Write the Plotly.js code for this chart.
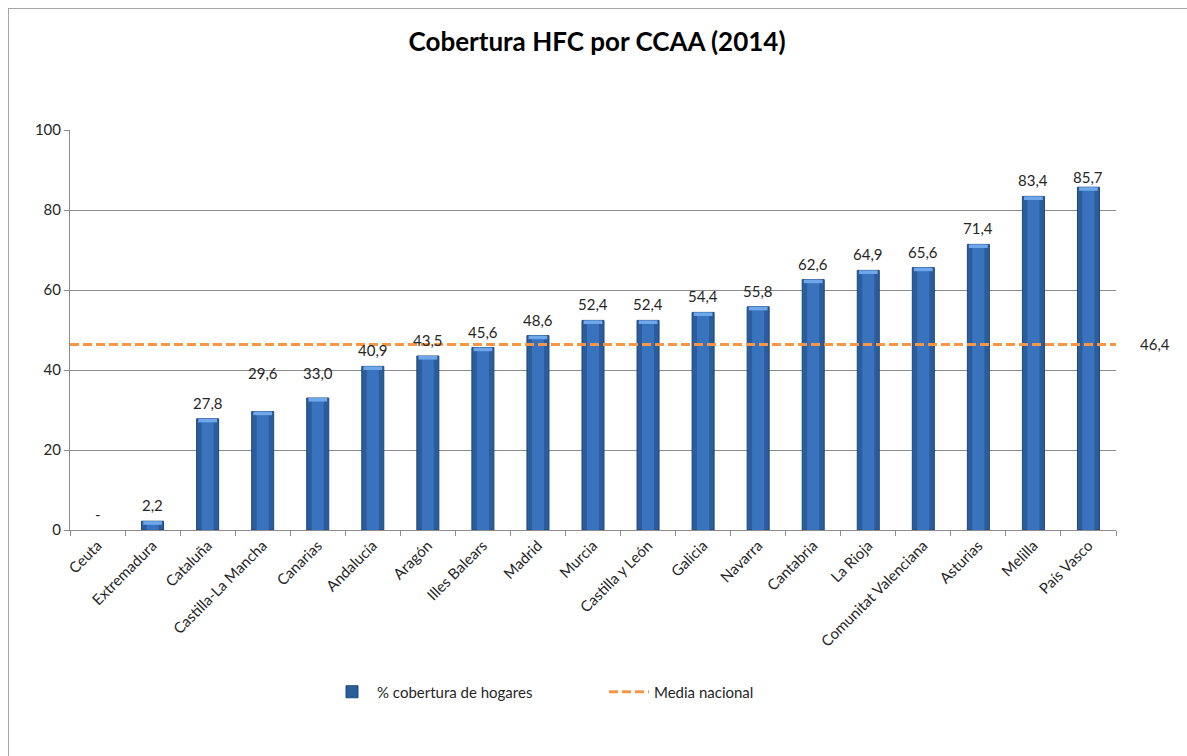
<!DOCTYPE html>
<html>
<head>
<meta charset="utf-8">
<script src="https://cdn.plot.ly/plotly-3.0.1.min.js"></script>
<style>
  html, body { margin: 0; padding: 0; background: #ffffff; }
  #wrap { position: relative; width: 1187px; height: 756px; overflow: hidden; }
  #frame { position: absolute; left: 8px; top: 8px; width: 1200px; height: 800px;
           border-left: 1px solid #a6a6a6; border-top: 1px solid #a6a6a6; pointer-events: none; }
  #chart { position: absolute; left: 0; top: 0; width: 1187px; height: 756px; }
</style>
</head>
<body>
<div id="wrap">
  <div id="chart"></div>
  <div id="frame"></div>
</div>
<script>
// Comunidades autónomas, ordered by HFC coverage
const regions = ['Ceuta', 'Extremadura', 'Cataluña', 'Castilla-La Mancha', 'Canarias', 'Andalucía',
  'Aragón', 'Illes Balears', 'Madrid', 'Murcia', 'Castilla y León', 'Galicia', 'Navarra',
  'Cantabria', 'La Rioja', 'Comunitat Valenciana', 'Asturias', 'Melilla', 'País Vasco'];

// % of households with HFC coverage (Ceuta has no data)
const coverage = [null, 2.2, 27.8, 29.6, 33.0, 40.9, 43.5, 45.6, 48.6, 52.4, 52.4, 54.4, 55.8,
  62.6, 64.9, 65.6, 71.4, 83.4, 85.7];

// National average
const mediaNacional = 46.4;

const seriesName = '% cobertura de hogares';
const meanName = 'Media nacional';

const FONT = 'Lato, "Open Sans", sans-serif';
const fmt = v => (v === null ? '-' : v.toFixed(1).replace('.', ','));

// Some value labels sit higher above their bar
const extraLift = { 'Castilla-La Mancha': 23, 'Canarias': 9, 'País Vasco': -6 };

// Main bar body
const bars = {
  type: 'bar', name: seriesName, x: regions, y: coverage,
  width: 0.4,
  marker: { color: '#2b5c9b', line: { color: '#20477a', width: 1 } },
  hoverinfo: 'x+y'
};
// Lighter centre strip for the rounded look
const barsShine = {
  type: 'bar', x: regions, y: coverage, width: 0.22, showlegend: false, hoverinfo: 'skip',
  marker: { color: '#3a73bd', line: { width: 0 } }
};
// Bevelled light cap at the top of each bar
const capH = 0.9;
const barsCap = {
  type: 'bar', x: regions,
  y: coverage.map(v => (v === null ? null : Math.min(capH, v))),
  base: coverage.map(v => (v === null ? null : Math.max(0, v - capH))),
  width: 0.34, showlegend: false, hoverinfo: 'skip',
  marker: { color: '#6ea7ea', line: { width: 0 } }
};

// National average drawn across the full plot width on a helper axis
const meanLine = {
  type: 'scatter', mode: 'lines', name: meanName,
  x: [0, 1], y: [mediaNacional, mediaNacional], xaxis: 'x2',
  line: { color: '#f79646', width: 3, dash: '9px,4px' },
  hoverinfo: 'y'
};

const annotations = regions.map((r, i) => ({
  x: r, y: coverage[i] === null ? 0 : coverage[i], xref: 'x', yref: 'y',
  text: fmt(coverage[i]), showarrow: false,
  yanchor: 'middle', yshift: 16 + (extraLift[r] || 0),
  font: { family: FONT, size: 15, color: '#262626' }
}));
annotations.push({
  x: 1, xref: 'paper', y: mediaNacional, yref: 'y',
  text: fmt(mediaNacional), showarrow: false,
  xanchor: 'left', xshift: 22, yanchor: 'middle',
  font: { family: FONT, size: 15, color: '#262626' }
});

const layout = {
  width: 1187, height: 756,
  paper_bgcolor: 'rgba(0,0,0,0)', plot_bgcolor: '#ffffff',
  margin: { l: 70, r: 71, t: 130, b: 226, pad: 0 },
  barmode: 'overlay',
  separators: ',.',
  font: { family: FONT, size: 14, color: '#262626' },
  title: {
    text: '<b>Cobertura HFC por CCAA (2014)</b>',
    x: 0.503, xanchor: 'center', y: 0.944, yanchor: 'middle',
    font: { family: FONT, size: 26, color: '#000000' }
  },
  xaxis: {
    type: 'category', range: [-0.5, regions.length - 0.5],
    tickangle: -45, tickson: 'boundaries',
    ticks: 'outside', ticklen: 5, tickcolor: '#8c8c8c',
    showline: true, linecolor: '#8c8c8c', linewidth: 1,
    showgrid: false, zeroline: false,
    tickfont: { family: FONT, size: 15, color: '#262626' },
    fixedrange: true
  },
  xaxis2: {
    overlaying: 'x', range: [0, 1], visible: false, fixedrange: true
  },
  yaxis: {
    range: [0, 100], dtick: 20, tick0: 0,
    ticks: 'outside', ticklen: 5, tickcolor: '#8c8c8c',
    showline: true, linecolor: '#8c8c8c', linewidth: 1,
    showgrid: true, gridcolor: '#8c8c8c', gridwidth: 1,
    zeroline: false,
    tickfont: { family: FONT, size: 15, color: '#262626' },
    fixedrange: true
  },
  showlegend: true,
  legend: {
    orientation: 'h', x: 0.2457, xanchor: 'left', y: -0.405, yanchor: 'middle',
    font: { family: FONT, size: 15, color: '#262626' },
    itemwidth: 40, entrywidth: 222, traceorder: 'normal',
    bgcolor: 'rgba(0,0,0,0)'
  },
  annotations: annotations
};

Plotly.newPlot('chart', [bars, barsShine, barsCap, meanLine], layout,
  { displayModeBar: false, responsive: false });
</script>
</body>
</html>
